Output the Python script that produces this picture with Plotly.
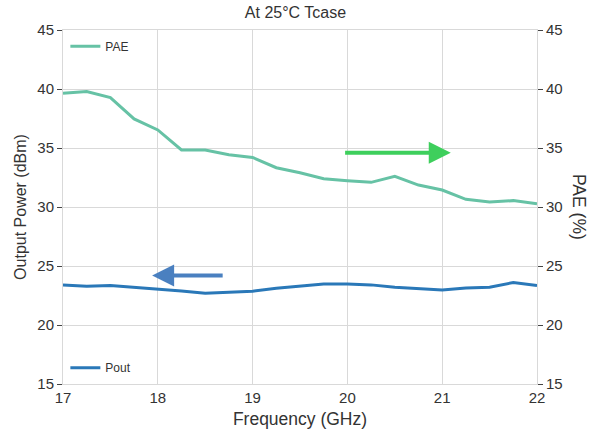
import plotly.graph_objects as go

# Frequency sweep (GHz)
freq_ghz = [17.0, 17.25, 17.5, 17.75, 18.0, 18.25, 18.5, 18.75, 19.0, 19.25, 19.5,
            19.75, 20.0, 20.25, 20.5, 20.75, 21.0, 21.25, 21.5, 21.75, 22.0]

# Output power (dBm)
pout_dbm = [23.40, 23.28, 23.34, 23.20, 23.00, 22.89, 22.69, 22.75, 22.86, 23.12, 23.28,
            23.48, 23.48, 23.40, 23.20, 23.06, 22.97, 23.14, 23.20, 23.60, 23.34]

# Power-added efficiency (%)
pae_pct = [39.63, 39.78, 39.27, 37.46, 36.53, 34.83, 34.83, 34.43, 34.20, 33.33, 32.90,
           32.40, 32.23, 32.09, 32.60, 31.86, 31.44, 30.65, 30.42, 30.54, 30.28]

y_ticks = [15, 20, 25, 30, 35, 40, 45]
x_ticks = [17, 18, 19, 20, 21, 22]

FONT = "Liberation Sans, Arial, sans-serif"
TEXT = "#333333"
GRID = "#d9d9d9"

fig = go.Figure()

fig.add_trace(go.Scatter(
    x=freq_ghz, y=pae_pct, name="PAE", yaxis="y2", mode="lines",
    line=dict(color="#66c2a5", width=3), legend="legend",
))
fig.add_trace(go.Scatter(
    x=freq_ghz, y=pout_dbm, name="Pout", yaxis="y", mode="lines",
    line=dict(color="#2a78b8", width=3), legend="legend2",
))

axis_common = dict(
    range=[15, 45], tickvals=y_ticks, showgrid=True, gridcolor=GRID, gridwidth=1,
    zeroline=False, ticks="outside", ticklen=5, tickcolor="#444444", tickwidth=1,
    tickfont=dict(family=FONT, size=15, color=TEXT), automargin=False,
)

fig.update_layout(
    width=591, height=429,
    margin=dict(l=63, r=54, t=30, b=45),
    paper_bgcolor="white", plot_bgcolor="white",
    font=dict(family=FONT, color=TEXT),
    title=dict(text="At 25°C Tcase", x=0.5, xanchor="center", y=0.985, yanchor="top",
               font=dict(family=FONT, size=16, color=TEXT)),
    xaxis=dict(
        range=[17, 22], tickvals=x_ticks, showgrid=True, gridcolor=GRID, gridwidth=1,
        zeroline=False, showline=True, linecolor=GRID, linewidth=1, mirror=True,
        ticks="", ticklabelstandoff=0, automargin=False,
        tickfont=dict(family=FONT, size=15, color=TEXT),
        title=dict(text="Frequency (GHz)", font=dict(family=FONT, size=17.5, color=TEXT),
                   standoff=12),
    ),
    yaxis=dict(
        **axis_common, side="left", showline=True, linecolor=GRID, linewidth=1,
        title=dict(text="Output Power (dBm)", font=dict(family=FONT, size=16, color=TEXT),
                   standoff=6),
    ),
    yaxis2=dict(
        **axis_common, side="right", overlaying="y", showline=True, linecolor=GRID,
        linewidth=1,
    ),
    legend=dict(x=0.005, y=0.995, xanchor="left", yanchor="top",
                bgcolor="rgba(255,255,255,0)", font=dict(family=FONT, size=12, color=TEXT)),
    legend2=dict(x=0.005, y=0.005, xanchor="left", yanchor="bottom",
                 bgcolor="rgba(255,255,255,0)", font=dict(family=FONT, size=12, color=TEXT)),
    showlegend=True,
)

# Right-hand axis title, reading top to bottom
fig.add_annotation(
    text="PAE (%)", xref="paper", yref="paper", x=1.0, y=0.5, xshift=54,
    textangle=90, showarrow=False, font=dict(family=FONT, size=17.5, color=TEXT),
)

# Direction arrows pointing each curve at its axis
fig.add_annotation(
    x=21.09, y=34.6, ax=19.96, ay=34.6, xref="x", yref="y", axref="x", ayref="y",
    showarrow=True, arrowhead=2, arrowsize=1.1, arrowwidth=4, arrowcolor="#3ecf5c", text="",
)
fig.add_annotation(
    x=17.94, y=24.2, ax=18.70, ay=24.2, xref="x", yref="y", axref="x", ayref="y",
    showarrow=True, arrowhead=2, arrowsize=1.1, arrowwidth=4, arrowcolor="#4a80c0", text="",
)

fig.write_html("out.html")
